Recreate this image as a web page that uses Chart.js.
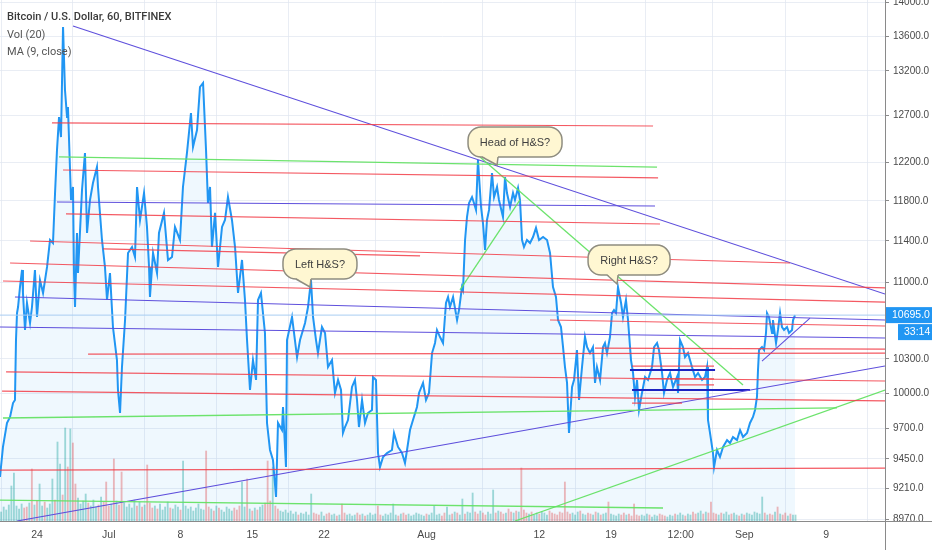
<!DOCTYPE html>
<html>
<head>
<meta charset="utf-8">
<script src="https://cdn.jsdelivr.net/npm/chart.js@4.4.0/dist/chart.umd.min.js"></script>
<style>
  html, body { margin: 0; padding: 0; background: #fff; }
  #wrap { width: 932px; height: 550px; position: relative; }
</style>
</head>
<body>
<div id="wrap"><canvas id="btcChart"></canvas></div>
<script>
// BTCUSD 60 min, Bitfinex. x = days since Jun 24
var priceDays = [
  -3.61,-3.32,-2.93,-2.63,-2.34,-2.15,-2.05,-1.95,-1.85,-1.66,
  -1.46,-1.37,-1.17,-0.98,-0.68,-0.49,-0.20,0.00,0.29,0.59,
  0.98,1.27,1.56,1.76,1.95,2.15,2.34,2.54,2.73,2.93,
  3.02,3.32,3.51,3.61,3.71,3.90,4.00,4.39,4.68,4.88,
  5.17,5.46,5.85,5.95,6.34,6.63,6.83,7.12,7.41,7.80,
  7.90,8.10,8.29,8.59,8.88,9.27,9.56,9.76,10.05,10.44,
  10.73,10.93,11.02,11.32,11.71,11.90,12.39,12.78,13.17,13.46,
  13.95,14.24,14.63,15.02,15.22,15.61,15.90,16.20,16.49,16.68,
  16.88,17.07,17.37,17.66,18.05,18.34,18.63,19.02,19.32,19.61,
  20.00,20.29,20.49,20.78,21.07,21.37,21.56,21.85,22.24,22.44,
  22.73,23.02,23.32,23.51,23.90,24.00,24.29,24.39,24.88,25.37,
  25.66,26.15,26.44,26.73,26.93,27.22,27.41,27.80,28.10,28.39,
  28.78,29.07,29.37,29.66,29.85,30.05,30.34,30.73,31.02,31.22,
  31.41,31.71,32.00,32.29,32.68,32.78,33.07,33.27,33.46,33.76,
  34.15,34.63,34.83,35.22,35.61,35.90,36.10,36.39,36.68,37.07,
  37.27,37.66,37.95,38.24,38.54,38.83,39.02,39.32,39.61,39.90,
  40.10,40.29,40.59,40.98,41.17,41.46,41.56,41.76,41.95,42.15,
  42.44,42.63,42.83,43.02,43.32,43.51,43.71,43.90,44.10,44.39,
  44.59,44.88,45.07,45.46,45.66,45.85,46.15,46.44,46.63,46.93,
  47.12,47.32,47.51,47.80,48.10,48.39,48.68,48.98,49.37,49.76,
  50.05,50.34,50.63,50.83,51.12,51.32,51.51,51.71,51.90,52.20,
  52.39,52.68,52.88,53.17,53.46,53.66,53.95,54.24,54.44,54.63,
  54.93,55.22,55.41,55.61,55.90,56.10,56.29,56.49,56.68,56.98,
  57.17,57.46,57.66,57.95,58.15,58.34,58.54,58.73,59.02,59.32,
  59.61,60.00,60.20,60.49,60.68,60.98,61.17,61.46,61.76,62.05,
  62.44,62.54,62.73,63.02,63.22,63.51,63.90,64.20,64.49,64.88,
  65.17,65.37,65.46,65.66,65.95,66.05,66.34,66.63,66.93,67.32,
  67.61,67.90,68.29,68.59,68.88,69.27,69.56,69.85,70.05,70.24,
  70.34,70.44,70.73,70.93,71.12,71.22,71.41,71.71,71.80,72.10,
  72.29,72.49,72.68,72.88,73.17,73.37,73.66,73.76,73.95
];
var priceClose = [
  9303,9547,9746,9797,9915,9941,10468,10714,10770,10957,
  11119,10901,10559,10807,10623,10770,11119,10678,11023,10901,
  11148,11410,11380,11881,12330,12684,12468,13707,12983,12684,
  12795,11810,11943,11090,10770,11479,11090,11912,12298,11479,
  11810,11984,12150,11943,11410,11148,10835,11090,10586,10289,
  10027,9830,10227,10650,11283,11341,11244,11943,11608,11881,
  11539,11148,10863,11283,11090,11479,11679,11215,11244,11539,
  11410,11943,12298,12729,12362,12544,13017,13062,12330,11780,
  11943,11341,11679,11148,11539,11608,11840,11608,11341,10901,
  11215,10835,10468,10027,10289,10114,10835,10901,10532,9746,
  9522,9440,9144,9746,9687,9881,9383,10468,10678,10315,
  10468,10623,10770,11023,10678,10468,10351,10586,10532,10227,
  10289,10001,10114,10027,9662,9712,9771,10053,10114,9941,
  9712,9941,9746,9830,9856,10140,10114,9497,9383,9465,
  9497,9522,9662,9547,9497,9416,9522,9687,9771,9881,
  10001,10088,9941,10001,10351,10441,10559,10495,10441,10807,
  10863,10770,10863,10650,10742,10957,10929,11410,11638,11780,
  11840,11780,11709,12224,11739,11578,11312,11608,11709,12088,
  11840,11943,11810,11638,12046,11881,11739,11881,11810,11933,
  11810,11410,11341,11410,11380,11439,11529,11410,11439,11410,
  11283,10957,10863,10650,10586,10405,10227,10088,9662,10053,
  10114,10378,9941,10227,10495,10405,10351,10405,10088,10227,
  10114,10405,10441,10351,10495,10714,10742,10714,10957,10807,
  10678,10835,10650,10289,10175,9967,10114,9856,10001,10140,
  10114,10227,10405,10441,10378,10175,10001,10114,10175,10053,
  10140,10001,10468,10405,10315,10351,10227,10140,10175,10114,
  10140,10227,9771,9662,9497,9383,9522,9465,9547,9604,
  9579,9629,9604,9687,9629,9662,9746,9797,9856,9967,
  10201,10378,10405,10378,10532,10714,10678,10532,10650,10441,
  10559,10714,10586,10559,10586,10532,10559,10650,10695
];
// volume, one bar every 6 hours starting at volStart
var volStart = -3.5;
var volume = [
  90,140,110,160,350,480,150,120,170,130,
  140,180,520,160,200,370,150,190,130,170,
  420,210,790,570,260,930,540,920,780,370,
  230,170,200,270,180,150,210,140,160,240,
  190,390,150,170,620,200,160,490,180,140,
  170,130,210,150,190,140,160,560,180,130,
  150,120,170,110,140,190,130,120,160,140,
  110,600,150,120,140,100,130,170,120,110,
  700,140,120,100,150,130,110,90,140,120,
  100,130,110,150,390,140,420,120,100,130,
  110,140,160,180,600,200,540,150,120,100,
  90,110,80,100,70,90,60,80,70,90,
  60,270,80,70,60,90,50,70,80,60,
  70,50,60,170,80,60,70,50,60,80,
  60,70,50,60,80,60,70,150,60,50,
  70,60,80,170,60,50,70,80,60,70,
  50,60,80,70,60,50,70,60,80,150,
  60,70,50,80,140,60,70,90,80,60,
  220,70,90,80,280,90,70,100,80,60,
  90,70,310,80,100,90,70,80,120,90,
  80,100,90,530,110,80,70,90,60,80,
  70,90,80,60,100,80,70,60,90,80,
  390,90,70,80,60,90,100,70,60,80,
  70,60,90,80,60,70,80,190,70,60,
  50,70,60,80,60,70,50,170,60,50,
  60,50,70,60,40,60,50,70,60,50,
  40,60,50,70,60,80,60,50,70,60,
  90,70,80,100,70,90,80,190,80,70,
  60,80,70,90,60,70,80,60,50,70,
  60,80,70,60,90,80,70,240,80,60,
  70,60,90,140,70,60,80,50,70,60,
  60
];

var tickDays = [0, 7, 14, 21, 28, 38, 49, 56, 62.8, 69, 77];
var tickLabels = ["24", "Jul", "8", "15", "22", "Aug", "12", "19", "12:00", "Sep", "9"];
var priceTicks = [8970, 9210, 9450, 9700, 10000, 10300, 11000, 11400, 11800, 12200, 12700, 13200, 13600, 14000];

// drawn levels and trendlines: [day1, price1, day2, price2]
var redLines = [
  [1.46, 12620, 60.10, 12587],
  [2.54, 12119, 60.59, 12036],
  [2.83, 11669, 60.78, 11568],
  [-0.68, 11400, 73.46, 11186],
  [6.44, 11322, 37.37, 11254],
  [-2.63, 11186, 82.73, 10948],
  [-3.32, 11014, 82.73, 10816],
  [50.05, 10650, 82.73, 10595],
  [54.44, 10396, 82.73, 10387],
  [4.98, 10342, 82.73, 10351],
  [-3.02, 10184, 82.73, 10105],
  [-3.41, 10018, 82.73, 9933],
  [-3.61, 9359, 82.73, 9375],
  [58.05, 10236, 66.05, 10236],
  [58.05, 10123, 66.05, 10123],
  [62.44, 10071, 66.05, 10071],
  [58.05, 9915, 62.93, 9915]
];
var greenLines = [
  [2.15, 12256, 60.49, 12150],
  [-3.32, 9788, 78.05, 9873],
  [43.22, 12256, 68.88, 10071],
  [41.27, 10929, 47.12, 11810],
  [46.63, 8957, 82.73, 10027],
  [-3.61, 9120, 61.07, 9058]
];
var blueLines = [
  [3.51, 13719, 82.73, 10891],
  [1.95, 11790, 60.29, 11749],
  [-2.15, 10863, 82.73, 10650],
  [-3.61, 10586, 82.73, 10486],
  [-1.95, 8957, 82.73, 10236],
  [70.73, 10280, 75.41, 10668]
];
var rangeLines = [
  [57.85, 10201, 66.15, 10201],
  [58.05, 10027, 69.56, 10027]
];

var calloutText = ["Left H&S?", "Head of H&S?", "Right H&S?"];
var calloutDay = [26.63, 44.88, 56.59];
var calloutPrice = [10957, 12171, 10985];

var legendLines = ["Bitcoin / U.S. Dollar, 60, BITFINEX", "Vol (20)", "MA (9, close)"];
var lastPrice = 10695;
var countdown = "33:14";

// bubble geometry relative to the tail tip, px: left, right, top, bottom, tail start
var calloutBox = [
  [-27, 47, -38, -8, -14],
  [-29, 65, -38, -8, -15],
  [-29, 53, -39, -9, -10]
];

function priceAt(d) {
  var k = 0;
  for (var i = 0; i < priceDays.length; i++) {
    if (priceDays[i] <= d) k = i;
  }
  return priceClose[k];
}

var volData = [], volColors = [];
for (var i = 0; i < volume.length; i++) {
  var d = volStart + i * 0.25;
  volData.push({ x: d, y: volume[i] });
  var up = priceAt(d) >= priceAt(d - 0.25);
  volColors.push(up ? "rgba(38,166,154,0.42)" : "rgba(239,83,80,0.42)");
}

var priceData = priceDays.map(function (d, i) { return { x: d, y: priceClose[i] }; });

function seg(l, color, width) {
  return {
    type: "line",
    data: [{ x: l[0], y: l[1] }, { x: l[2], y: l[3] }],
    borderColor: color,
    borderWidth: width,
    pointRadius: 0,
    fill: false,
    order: 1
  };
}

var datasets = [];
datasets.push({
  type: "bar",
  data: volData,
  yAxisID: "yv",
  backgroundColor: volColors,
  borderWidth: 0,
  barThickness: 1.2,
  order: 9
});
datasets.push(seg([-3.61, lastPrice, 82.73, lastPrice], "#a8cdf2", 1));
datasets.push({
  type: "line",
  data: priceData,
  borderColor: "#2196f3",
  borderWidth: 2,
  backgroundColor: "rgba(33,150,243,0.07)",
  fill: "start",
  pointRadius: 0,
  tension: 0,
  order: 3
});
redLines.forEach(function (l) { datasets.push(seg(l, "rgba(242,60,70,0.85)", 1.2)); });
greenLines.forEach(function (l) { datasets.push(seg(l, "rgba(100,225,100,0.95)", 1.3)); });
blueLines.forEach(function (l) { datasets.push(seg(l, "#5e4fdc", 1.1)); });
rangeLines.forEach(function (l) { datasets.push(seg(l, "#1d22c0", 2)); });

var overlay = {
  id: "overlay",
  afterDatasetsDraw: function (chart) {
    var ctx = chart.ctx, xs = chart.scales.x, ys = chart.scales.y;
    ctx.save();
    for (var i = 0; i < calloutText.length; i++) {
      var tx = xs.getPixelForValue(calloutDay[i]);
      var ty = ys.getPixelForValue(calloutPrice[i]);
      var b = calloutBox[i];
      var l = tx + b[0], r = tx + b[1], t = ty + b[2], bt = ty + b[3], rad = 13;
      ctx.beginPath();
      ctx.moveTo(l + rad, t);
      ctx.arcTo(r, t, r, bt, rad);
      ctx.arcTo(r, bt, l, bt, rad);
      ctx.arcTo(l, bt, l, t, rad);
      ctx.arcTo(l, t, r, t, rad);
      ctx.closePath();
      ctx.fillStyle = "#fff7d2";
      ctx.fill();
      ctx.strokeStyle = "#8f8d80";
      ctx.lineWidth = 1.5;
      ctx.stroke();
      // tail
      ctx.beginPath();
      ctx.moveTo(tx + b[4], bt - 1);
      ctx.lineTo(tx, ty);
      ctx.lineTo(tx + 1, bt - 1);
      ctx.closePath();
      ctx.fill();
      ctx.beginPath();
      ctx.moveTo(tx + b[4], bt);
      ctx.lineTo(tx, ty);
      ctx.lineTo(tx + 1, bt);
      ctx.stroke();
      ctx.fillStyle = "#404040";
      ctx.font = '11px "Liberation Sans", Arial, sans-serif';
      ctx.textAlign = "center";
      ctx.textBaseline = "middle";
      ctx.fillText(calloutText[i], (l + r) / 2, (t + bt) / 2 + 1);
    }
    ctx.restore();
  },
  afterDraw: function (chart) {
    var ctx = chart.ctx, area = chart.chartArea, ys = chart.scales.y;
    ctx.save();
    // axis borders
    ctx.strokeStyle = "#8a8a8a";
    ctx.lineWidth = 1;
    ctx.beginPath();
    ctx.moveTo(area.right + 0.5, 0);
    ctx.lineTo(area.right + 0.5, chart.height);
    ctx.moveTo(0, area.bottom + 0.5);
    ctx.lineTo(chart.width, area.bottom + 0.5);
    ctx.stroke();
    // last price tag
    var py = ys.getPixelForValue(lastPrice);
    ctx.fillStyle = "#2196f3";
    ctx.fillRect(area.right + 1, py - 8, chart.width - area.right, 16);
    ctx.fillRect(area.right + 13, py + 9, chart.width - area.right - 12, 16);
    ctx.fillStyle = "#fff";
    ctx.font = '10.5px "Liberation Sans", Arial, sans-serif';
    ctx.textBaseline = "middle";
    ctx.textAlign = "left";
    ctx.fillText(lastPrice.toFixed(1), area.right + 7, py);
    ctx.fillText(countdown, area.right + 19, py + 17);
    // legend text
    ctx.font = '500 11px Roboto, "Liberation Sans", sans-serif';
    ctx.textBaseline = "alphabetic";
    ctx.fillStyle = "#3a3a3a";
    ctx.fillText(legendLines[0], 7, 20);
    ctx.font = '11px Roboto, "Liberation Sans", sans-serif';
    ctx.fillStyle = "#555";
    ctx.fillText(legendLines[1], 7, 37.5);
    ctx.fillText(legendLines[2], 7, 55);
    ctx.restore();
  }
};

new Chart("btcChart", {
  type: "line",
  data: { datasets: datasets },
  options: {
    responsive: true,
    maintainAspectRatio: false,
    animation: false,
    layout: { padding: 0 },
    plugins: { legend: { display: false }, tooltip: { enabled: false } },
    elements: { point: { radius: 0 } },
    scales: {
      x: {
        type: "linear",
        min: -3.61,
        max: 82.73,
        bounds: "data",
        offset: false,
        border: { display: false },
        grid: { color: "rgba(226,231,240,0.75)", drawTicks: false },
        afterBuildTicks: function (s) { s.ticks = tickDays.map(function (v) { return { value: v }; }); },
        afterFit: function (s) { s.height = 29; s.paddingLeft = 0; s.paddingRight = 0; },
        ticks: {
          autoSkip: false,
          maxRotation: 0,
          padding: 8,
          color: "#4a4a4a",
          font: { family: '"Liberation Sans", Arial, sans-serif', size: 10.5 },
          callback: function (v) { var k = tickDays.indexOf(v); return k >= 0 ? tickLabels[k] : ""; }
        }
      },
      y: {
        type: "logarithmic",
        position: "right",
        min: 8957,
        max: 14030,
        bounds: "data",
        border: { display: false },
        grid: { color: "rgba(226,231,240,0.75)", tickColor: "#8a8a8a", tickLength: 4 },
        afterBuildTicks: function (s) { s.ticks = priceTicks.map(function (v) { return { value: v }; }); },
        afterFit: function (s) { s.width = 47; s.paddingTop = 0; s.paddingBottom = 0; },
        ticks: {
          autoSkip: false,
          padding: 4,
          color: "#4a4a4a",
          font: { family: '"Liberation Sans", Arial, sans-serif', size: 10 },
          callback: function (v) { return Number(v).toFixed(1); }
        }
      },
      yv: {
        type: "linear",
        display: false,
        min: 0,
        max: 5210
      }
    }
  },
  plugins: [overlay]
});
</script>
</body>
</html>
